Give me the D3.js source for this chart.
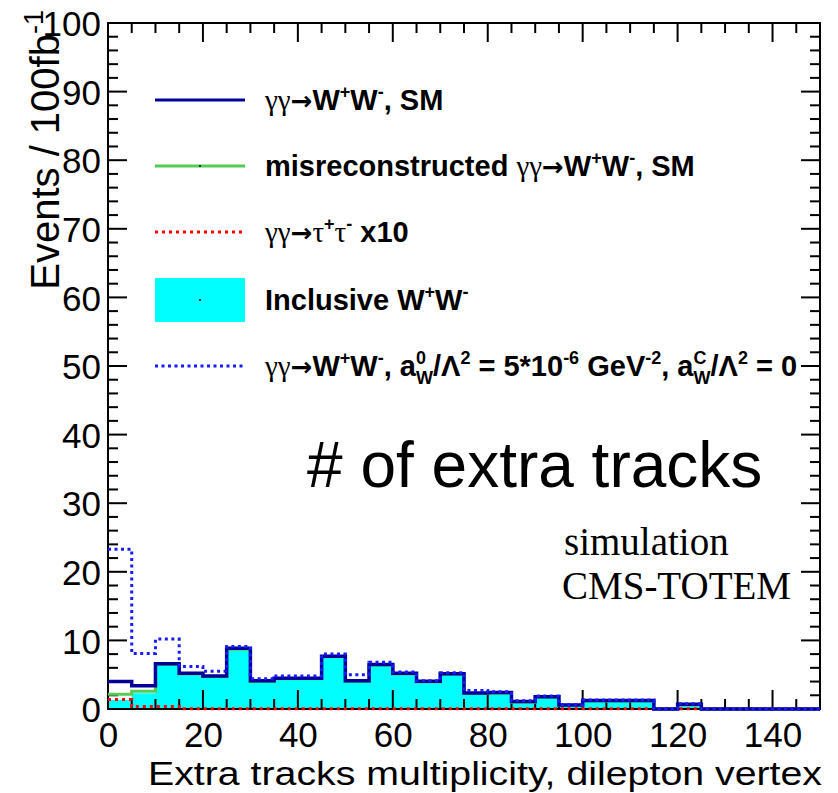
<!DOCTYPE html>
<html><head><meta charset="utf-8">
<script src="https://cdn.jsdelivr.net/npm/d3@7"></script>
<style>body{margin:0;background:#fff}</style>
</head><body>
<svg id="c" width="838" height="793"></svg>
<script>
// Bins: 30 bins of width 5 in extra-track multiplicity, 0..150
const binWidth = 5;
const binLow = d3.range(0, 150, binWidth);

// gamma gamma -> WW, SM (stack total outline)
const smTotal = [4.0, 3.4, 6.6, 5.2, 4.8, 8.85, 4.1, 4.5, 4.5, 7.7,
                 4.1, 6.5, 5.2, 4.05, 5.15, 2.35, 2.4, 1.1, 1.8, 0.6,
                 1.25, 1.25, 1.25, 0, 0.7, 0, 0, 0, 0, 0];
// misreconstructed gamma gamma -> WW, SM (stacked)
const misreco = [2.15, 2.6, 6.5, 5.1, 4.7, 8.7, 4.0, 4.4, 4.4, 7.6,
                 4.0, 6.4, 5.1, 3.95, 5.05, 2.25, 2.3, 1.0, 1.7, 0.5,
                 1.15, 1.15, 1.15, 0, 0.6, 0, 0, 0, 0, 0];
// gamma gamma -> tau tau, x10
const tautau = [1.4, 0.35, 0.35, 0.05, 0.05, 0.05, 0.05, 0.05, 0.05, 0.05,
                0.05, 0.05, 0.05, 0.05, 0.05, 0.05, 0.05, 0.05, 0.05, 0.05,
                0.05, 0.05, 0.05, 0.05, 0.05, 0, 0, 0, 0, 0];
// inclusive WW (filled)
const inclusiveWW = [1.35, 2.3, 6.5, 5.1, 4.7, 8.7, 4.0, 4.4, 4.4, 7.6,
                     4.0, 6.4, 5.1, 3.95, 5.05, 2.25, 2.3, 1.0, 1.7, 0.5,
                     1.15, 1.15, 1.15, 0, 0.6, 0, 0, 0, 0, 0];
// anomalous coupling a0W/L^2 = 5e-6 GeV^-2
const anomalous = [23.3, 8.1, 10.2, 6.2, 5.5, 9.1, 4.4, 4.8, 4.8, 8.0,
                   5.0, 6.8, 5.4, 4.1, 5.3, 2.7, 2.5, 1.2, 1.9, 0.65,
                   1.3, 1.3, 1.3, 0, 0.75, 0, 0, 0, 0, 0];

const yTickValues = d3.range(0, 101, 10);
const xTickValues = d3.range(0, 141, 20);

const svg = d3.select("#c");
const L = 108, R = 820, T = 23, B = 709;
const x = d3.scaleLinear().domain([0, 150]).range([L, R]);
const y = d3.scaleLinear().domain([0, 100]).range([B, T]);

const SANS = "'Liberation Sans', Arial, Helvetica, sans-serif";
const SERIF = "'Liberation Serif', 'Times New Roman', serif";

// step outline: starts at the top of the first bin, closes on the baseline at the end
function stepPoints(vals) {
  const pts = [];
  vals.forEach((v, i) => { pts.push([binLow[i], v]); pts.push([binLow[i] + binWidth, v]); });
  pts.push([150, 0]);
  return pts;
}
const line = d3.line().x(d => x(d[0])).y(d => y(d[1]));
const area = d3.area().x(d => x(d[0])).y0(y(0)).y1(d => y(d[1]));

// filled inclusive WW
svg.append("path").attr("d", area(stepPoints(inclusiveWW))).attr("fill", "#00ffff");

// frame with ROOT-style inward ticks on all four sides
const g = svg.append("g").attr("stroke", "#000").attr("stroke-width", 2);
function ticks(scale, major, minorStep, max, draw) {
  d3.range(0, max + 0.001, minorStep).forEach(v => {
    const isMajor = Math.abs(v / major - Math.round(v / major)) < 1e-6;
    draw(scale(v), isMajor ? 19 : 10);
  });
}
ticks(x, 20, 5, 150, (px, len) => {
  g.append("line").attr("x1", px).attr("x2", px).attr("y1", B).attr("y2", B - len);
  g.append("line").attr("x1", px).attr("x2", px).attr("y1", T).attr("y2", T + len);
});
ticks(y, 10, 2, 100, (py, len) => {
  g.append("line").attr("y1", py).attr("y2", py).attr("x1", L).attr("x2", L + len);
  g.append("line").attr("y1", py).attr("y2", py).attr("x1", R).attr("x2", R - len);
});
svg.append("rect").attr("x", L).attr("y", T).attr("width", R - L).attr("height", B - T)
  .attr("fill", "none").attr("stroke", "#000").attr("stroke-width", 2);

// tick labels via d3 axes
const yAxis = d3.axisLeft(y).tickValues(yTickValues).tickSize(0).tickPadding(7);
svg.append("g").attr("transform", `translate(${L},0)`).call(yAxis)
  .call(s => s.select(".domain").remove())
  .selectAll("text").attr("font-family", SANS).attr("font-size", 35).attr("fill", "#000")
  .attr("dy", "0.36em");
const xAxis = d3.axisBottom(x).tickValues(xTickValues).tickSize(0).tickPadding(13);
svg.append("g").attr("transform", `translate(0,${B})`).call(xAxis)
  .call(s => s.select(".domain").remove())
  .selectAll("text").attr("font-family", SANS).attr("font-size", 35).attr("fill", "#000");

// histogram outlines
svg.append("path").attr("d", line(stepPoints(misreco))).attr("fill", "none")
  .attr("stroke", "#55cc55").attr("stroke-width", 3);
svg.append("path").attr("d", line(stepPoints(tautau))).attr("fill", "none")
  .attr("stroke", "#ff0000").attr("stroke-width", 3).attr("stroke-dasharray", "3,4");
svg.append("path").attr("d", line(stepPoints(smTotal))).attr("fill", "none")
  .attr("stroke", "#000099").attr("stroke-width", 3.5);
svg.append("path").attr("d", line(stepPoints(anomalous))).attr("fill", "none")
  .attr("stroke", "#1a1aff").attr("stroke-width", 3).attr("stroke-dasharray", "3,3.5");

// axis titles
svg.append("text").attr("x", 822).attr("y", 785).attr("text-anchor", "end")
  .attr("font-family", SANS).attr("font-size", 33)
  .attr("textLength", 674).attr("lengthAdjust", "spacingAndGlyphs")
  .text("Extra tracks multiplicity, dilepton vertex");
const yt = svg.append("text").attr("transform", "translate(59,10) rotate(-90)")
  .attr("text-anchor", "end").attr("font-family", SANS).attr("font-size", 40);
yt.append("tspan").text("Events / 100fb");
yt.append("tspan").attr("font-size", 27).attr("dy", -16).text("-1");

// legend
const legend = svg.append("g");
const rows = [100, 166, 232, 300, 366];
function addText(yy, segs) {
  const t = legend.append("text").attr("x", 265).attr("y", yy + 10)
    .attr("font-family", SANS).attr("font-weight", "bold").attr("font-size", 29);
  let shift = 0;
  segs.forEach(s => {
    const sp = t.append("tspan").text(s.t);
    let dy = 0;
    if (s.k === "g") sp.attr("font-family", SERIF).attr("font-weight", "normal").attr("font-size", 29);
    if (s.k === "a") sp.attr("font-family", "'DejaVu Sans', sans-serif").attr("font-size", 26);
    if (s.k === "sup") { sp.attr("font-size", 18); dy = -12; }
    if (s.k === "sub") { sp.attr("font-size", 18); dy = 8; }
    if (s.dx) sp.attr("dx", s.dx);
    sp.attr("dy", dy - shift);
    shift = dy;
  });
}
const ggWW = [{t: "γγ", k: "g"}, {t: "→", k: "a"}, {t: "W"}, {t: "+", k: "sup"}, {t: "W"}, {t: "-", k: "sup"}];
legend.append("line").attr("x1", 155).attr("x2", 245).attr("y1", rows[0]).attr("y2", rows[0])
  .attr("stroke", "#000099").attr("stroke-width", 3);
addText(rows[0], [...ggWW, {t: ", SM"}]);
legend.append("line").attr("x1", 155).attr("x2", 245).attr("y1", rows[1]).attr("y2", rows[1])
  .attr("stroke", "#55cc55").attr("stroke-width", 3);
legend.append("circle").attr("cx", 200).attr("cy", rows[1]).attr("r", 1).attr("fill", "#000");
addText(rows[1], [{t: "misreconstructed "}, ...ggWW, {t: ", SM"}]);
legend.append("line").attr("x1", 155).attr("x2", 245).attr("y1", rows[2]).attr("y2", rows[2])
  .attr("stroke", "#ff0000").attr("stroke-width", 3).attr("stroke-dasharray", "3,4");
addText(rows[2], [{t: "γγ", k: "g"}, {t: "→", k: "a"}, {t: "τ", k: "g"}, {t: "+", k: "sup"}, {t: "τ", k: "g"}, {t: "-", k: "sup"}, {t: " x10"}]);
legend.append("rect").attr("x", 155).attr("y", rows[3] - 22).attr("width", 90).attr("height", 44)
  .attr("fill", "#00ffff");
legend.append("circle").attr("cx", 200).attr("cy", rows[3]).attr("r", 1).attr("fill", "#000");
addText(rows[3], [{t: "Inclusive W"}, {t: "+", k: "sup"}, {t: "W"}, {t: "-", k: "sup"}]);
legend.append("line").attr("x1", 155).attr("x2", 245).attr("y1", rows[4]).attr("y2", rows[4])
  .attr("stroke", "#1a1aff").attr("stroke-width", 3).attr("stroke-dasharray", "3,3.5");
addText(rows[4], [...ggWW, {t: ", a"}, {t: "0", k: "sup"}, {t: "W", k: "sub", dx: -10}, {t: "/Λ"}, {t: "2", k: "sup"},
  {t: " = 5*10"}, {t: "-6", k: "sup"}, {t: " GeV"}, {t: "-2", k: "sup"}, {t: ", a"}, {t: "C", k: "sup"},
  {t: "W", k: "sub", dx: -13}, {t: "/Λ"}, {t: "2", k: "sup"}, {t: " = 0"}]);

// annotations
svg.append("text").attr("x", 307).attr("y", 487).attr("font-family", SANS).attr("font-size", 64)
  .text("# of extra tracks");
svg.append("text").attr("x", 564).attr("y", 555).attr("font-family", SERIF).attr("font-size", 39)
  .text("simulation");
svg.append("text").attr("x", 562).attr("y", 599).attr("font-family", SERIF).attr("font-size", 39)
  .text("CMS-TOTEM");
</script>
</body></html>
